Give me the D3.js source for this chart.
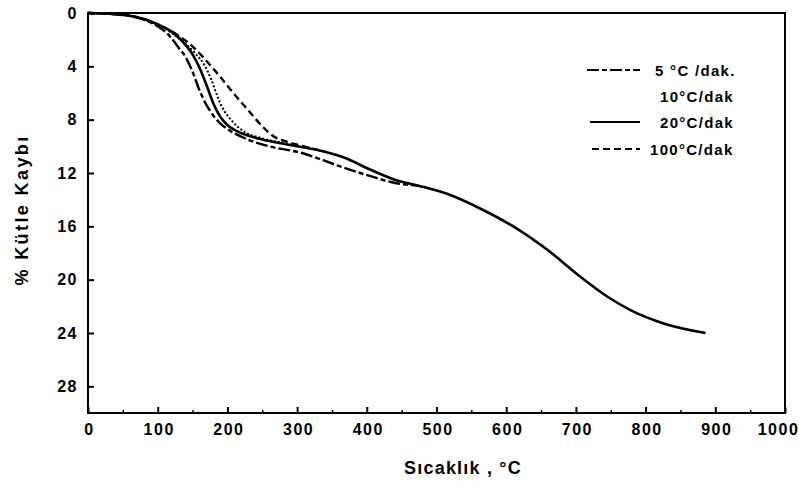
<!DOCTYPE html>
<html><head><meta charset="utf-8">
<script src="https://cdn.jsdelivr.net/npm/d3@7"></script>
<style>
body{margin:0;background:#fff;}
text{font-family:"Liberation Sans",Arial,sans-serif;font-weight:bold;fill:#000;}
</style></head><body>
<svg id="c" width="799" height="488"></svg>
<script>
// Data (temperature °C, % mass loss)
const s5Temp  = [0,50,80,100,115,130,140,150,160,170,180,190,200,230,260,307,356,403,441,474];
const s5Loss  = [0,0.15,0.5,1.0,1.6,2.6,3.3,4.4,5.8,6.9,7.7,8.3,8.7,9.5,10.0,10.5,11.4,12.2,12.75,12.95];
const s10Temp = [0,60,90,120,140,155,167,177,186,195,205,221,250,280,300];
const s10Loss = [0,0.2,0.65,1.5,2.3,3.1,3.9,5.0,6.3,7.3,8.0,8.8,9.4,9.75,9.95];
const s20Temp = [0,40,60,80,100,120,135,150,160,170,180,190,200,215,240,260,290,331,370,403,440,474,517,564,613,660,707,746,779,827,886];
const s20Loss = [0,0.05,0.2,0.45,0.85,1.4,2.1,3.1,4.1,5.4,6.8,7.8,8.4,8.9,9.35,9.6,9.9,10.3,10.9,11.7,12.5,12.95,13.6,14.7,16.1,17.8,19.8,21.3,22.3,23.3,24.0];
const s100Temp= [0,60,100,130,150,170,190,210,230,250,265,285,310,340];
const s100Loss= [0,0.2,0.85,1.7,2.5,3.6,4.8,6.1,7.3,8.5,9.2,9.65,10.0,10.4];
const xTicks = [0,100,200,300,400,500,600,700,800,900,1000];
const yTicks = [0,4,8,12,16,20,24,28];
const legendLabels = ["5 °C /dak.","10°C/dak","20°C/dak","100°C/dak"];

const svg = d3.select("#c");
const L=88,R=785,T=13,B=413;
const x = d3.scaleLinear().domain([0,1000]).range([L,R]);
const y = d3.scaleLinear().domain([0,30]).range([T,B]);

// frame
svg.append("rect").attr("x",L).attr("y",T).attr("width",R-L).attr("height",B-T)
  .attr("fill","none").attr("stroke","#000").attr("stroke-width",2);

// x axis
const gx = svg.append("g").attr("transform",`translate(0,${B})`)
  .call(d3.axisBottom(x).tickValues(xTicks).tickSize(-6).tickPadding(11).tickFormat(d3.format("d")));
gx.select(".domain").remove();
gx.selectAll("line").attr("stroke","#000").attr("stroke-width",2);
gx.selectAll("text").style("font-size","16px").style("letter-spacing","1.5px")
  .attr("dx",d=>d===1000?-7:1);
svg.append("g").attr("transform",`translate(0,${B})`)
  .call(d3.axisBottom(x).tickValues(d3.range(50,1000,100)).tickSize(-3).tickFormat(""))
  .call(g=>g.select(".domain").remove()).selectAll("line").attr("stroke","#000").attr("stroke-width",1.5);

// y axis
const gy = svg.append("g").attr("transform",`translate(${L},0)`)
  .call(d3.axisLeft(y).tickValues(yTicks).tickSize(-6).tickPadding(10).tickFormat(d3.format("d")));
gy.select(".domain").remove();
gy.selectAll("line").attr("stroke","#000").attr("stroke-width",2);
gy.selectAll("text").style("font-size","16px").style("letter-spacing","1.5px");

// axis titles
svg.append("text").attr("x",463).attr("y",474).attr("text-anchor","middle")
  .style("font-size","18px").style("letter-spacing","1.2px").text("Sıcaklık , °C");
svg.append("text").attr("transform","translate(28,210) rotate(-90)").attr("text-anchor","middle")
  .style("font-size","18px").style("letter-spacing","2.4px").text("% Kütle Kaybı");

// curves
const line = d3.line().x(d=>x(d[0])).y(d=>y(d[1])).curve(d3.curveMonotoneX);
const series = [
  {t:s5Temp,l:s5Loss,dash:"12,3,5,3",w:2.4},
  {t:s10Temp,l:s10Loss,dash:"2,2",w:2},
  {t:s20Temp,l:s20Loss,dash:null,w:2.6},
  {t:s100Temp,l:s100Loss,dash:"7,4",w:2.4}
];
series.forEach(s=>{
  svg.append("path").datum(s.t.map((v,i)=>[v,s.l[i]])).attr("d",line)
    .attr("fill","none").attr("stroke","#000").attr("stroke-width",s.w)
    .attr("stroke-dasharray",s.dash);
});

// legend
const legY = [70,96,122,149];
const legX0 = [587,null,590,592];
const legDash = ["12,3,5,3",null,null,"7,4"];
legendLabels.forEach((lab,i)=>{
  if(legX0[i]!==null){
    svg.append("line").attr("x1",legX0[i]).attr("x2",640).attr("y1",legY[i]).attr("y2",legY[i])
      .attr("stroke","#000").attr("stroke-width",2).attr("stroke-dasharray",legDash[i]);
  }
  svg.append("text").attr("x",i===0?655:(i===3?650:660)).attr("y",legY[i]+6)
    .style("font-size","15px").style("letter-spacing","1.3px").text(lab);
});
</script></body></html>
